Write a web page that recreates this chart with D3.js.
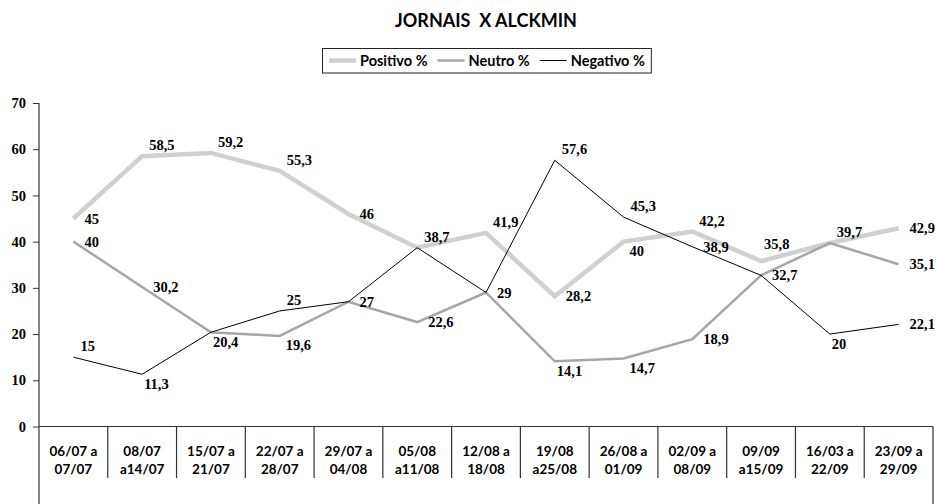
<!DOCTYPE html>
<html>
<head>
<meta charset="utf-8">
<script src="https://cdn.jsdelivr.net/npm/d3@7"></script>
<style>
  html, body { margin: 0; padding: 0; background: #fff; }
  svg { display: block; }
</style>
</head>
<body>
<svg id="chart" width="938" height="504"></svg>
<script>
// Weekly press coverage of Alckmin: share of positive, neutral and negative items (%)
const categories = [
  "06/07 a|07/07", "08/07|a14/07", "15/07 a|21/07", "22/07 a|28/07",
  "29/07 a|04/08", "05/08|a11/08", "12/08 a|18/08", "19/08|a25/08",
  "26/08 a|01/09", "02/09 a|08/09", "09/09|a15/09", "16/03 a|22/09",
  "23/09 a|29/09"
];
const positivo = [45, 58.5, 59.2, 55.3, 46, 38.7, 41.9, 28.2, 40, 42.2, 35.8, 39.7, 42.9];
const neutro   = [40, 30.2, 20.4, 19.6, 27, 22.6, 29, 14.1, 14.7, 18.9, 32.7, 39.7, 35.1];
const negativo = [15, 11.3, 20.4, 25, 27, 38.7, 29, 57.6, 45.3, 38.9, 32.7, 20, 22.1];
const yTicks = [0, 10, 20, 30, 40, 50, 60, 70];

// where each value label sits relative to its point ("-" = shared with another series' label)
const positivoLabelAt = ["r", "ar", "ar", "ar", "r", "ar", "ar", "r", "br", "ar", "a", "ar", "r"];
const neutroLabelAt   = ["r", "r", "b", "br", "r", "r", "r", "b", "br", "r", "r", "-", "r"];
const negativoLabelAt = ["ar", "b", "-", "ar", "-", "-", "-", "ar", "ar", "r", "-", "b", "r"];

const labelNudge = {
  r:  [11, 0],
  ar: [7, -11],
  br: [6, 9],
  b:  [2, 10],
  a:  [3, -17]
};

const series = [
  { name: "Positivo %", values: positivo, place: positivoLabelAt, color: "#d0d0d0", width: 4.5 },
  { name: "Neutro %",   values: neutro,   place: neutroLabelAt,   color: "#a6a6a6", width: 2.5 },
  { name: "Negativo %", values: negativo, place: negativoLabelAt, color: "#000000", width: 1 }
];

const svg = d3.select("#chart");
const serifBold = "'Liberation Serif', 'Times New Roman', serif";
const sansBold = "Lato, 'Open Sans', sans-serif";

const plotLeft = 39, plotRight = 933, plotTop = 103, zeroY = 426.5, plotBottom = 504;

const x = d3.scaleBand().domain(categories).range([plotLeft, plotRight]);
const y = d3.scaleLinear().domain([0, 70]).range([zeroY, plotTop]);
const cx = c => x(c) + x.bandwidth() / 2;

// title
svg.append("text")
  .attr("x", (plotLeft + plotRight) / 2).attr("y", 27)
  .attr("text-anchor", "middle")
  .style("font-family", sansBold).style("font-weight", 700)
  .style("font-size", "18px")
  .style("white-space", "pre")
  .text("JORNAIS  X ALCKMIN");

// y axis
const yAxis = d3.axisLeft(y).tickValues(yTicks).tickSize(6).tickPadding(7).tickFormat(d3.format("d"));
const gy = svg.append("g").attr("transform", `translate(${plotLeft},0)`).call(yAxis);
gy.select(".domain").remove();
gy.selectAll(".tick line").attr("stroke", "#333");
gy.selectAll(".tick text")
  .style("font-family", serifBold).style("font-weight", 700).style("font-size", "14.5px")
  .attr("fill", "#000");
svg.append("line")
  .attr("x1", plotLeft).attr("x2", plotLeft).attr("y1", plotTop).attr("y2", plotBottom)
  .attr("stroke", "#333").attr("stroke-width", 1.2);

// category axis along zero with divider ticks between weeks
svg.append("line")
  .attr("x1", plotLeft).attr("x2", plotRight).attr("y1", zeroY).attr("y2", zeroY)
  .attr("stroke", "#333").attr("stroke-width", 1.2);
const bounds = categories.slice(1).map(c => x(c));
svg.append("g").selectAll("line").data(bounds).join("line")
  .attr("x1", d => d).attr("x2", d => d)
  .attr("y1", zeroY).attr("y2", 478)
  .attr("stroke", "#333").attr("stroke-width", 1.2);
svg.append("line")
  .attr("x1", plotRight).attr("x2", plotRight).attr("y1", zeroY).attr("y2", plotBottom)
  .attr("stroke", "#333").attr("stroke-width", 1.2);

const catG = svg.append("g").selectAll("text").data(categories).join("text")
  .attr("x", d => cx(d))
  .attr("text-anchor", "middle")
  .style("font-family", sansBold).style("font-weight", 700).style("font-size", "13.5px")
  .attr("fill", "#000");
catG.each(function (d) {
  const lines = d.split("|");
  d3.select(this).selectAll("tspan").data(lines).join("tspan")
    .attr("x", cx(d))
    .attr("y", (l, i) => 456 + i * 18)
    .text(l => l);
});

// series lines
const line = d3.line().x((v, i) => cx(categories[i])).y(v => y(v));
series.forEach(s => {
  svg.append("path")
    .datum(s.values)
    .attr("d", line)
    .attr("fill", "none")
    .attr("stroke", s.color)
    .attr("stroke-width", s.width)
    .attr("stroke-linejoin", "miter");
});

// value labels
const fmt = v => String(v).replace(".", ",");
series.forEach(s => {
  s.values.forEach((v, i) => {
    const p = s.place[i];
    if (p === "-") return;
    const [dx, dy] = labelNudge[p];
    svg.append("text")
      .attr("x", cx(categories[i]) + dx)
      .attr("y", y(v) + dy)
      .attr("dy", "0.35em")
      .style("font-family", serifBold).style("font-weight", 700).style("font-size", "14.5px")
      .attr("fill", "#000")
      .text(fmt(v));
  });
});

// legend
const legend = svg.append("g");
const legY = 60.5;
let lx = 329;
series.forEach(s => {
  legend.append("line")
    .attr("x1", lx).attr("x2", lx + 27).attr("y1", legY).attr("y2", legY)
    .attr("stroke", s.color).attr("stroke-width", s.width);
  const t = legend.append("text")
    .attr("x", lx + 31).attr("y", legY).attr("dy", "0.35em")
    .style("font-family", sansBold).style("font-weight", 700).style("font-size", "14.5px")
    .text(s.name);
  lx += 31 + t.node().getComputedTextLength() + 10;
});
const legW = lx - 322 - 4;
legend.insert("rect", ":first-child")
  .attr("x", 322.5).attr("y", 48.5).attr("width", legW).attr("height", 24.5)
  .attr("fill", "#fff").attr("stroke", "#222").attr("stroke-width", 1);
</script>
</body>
</html>
